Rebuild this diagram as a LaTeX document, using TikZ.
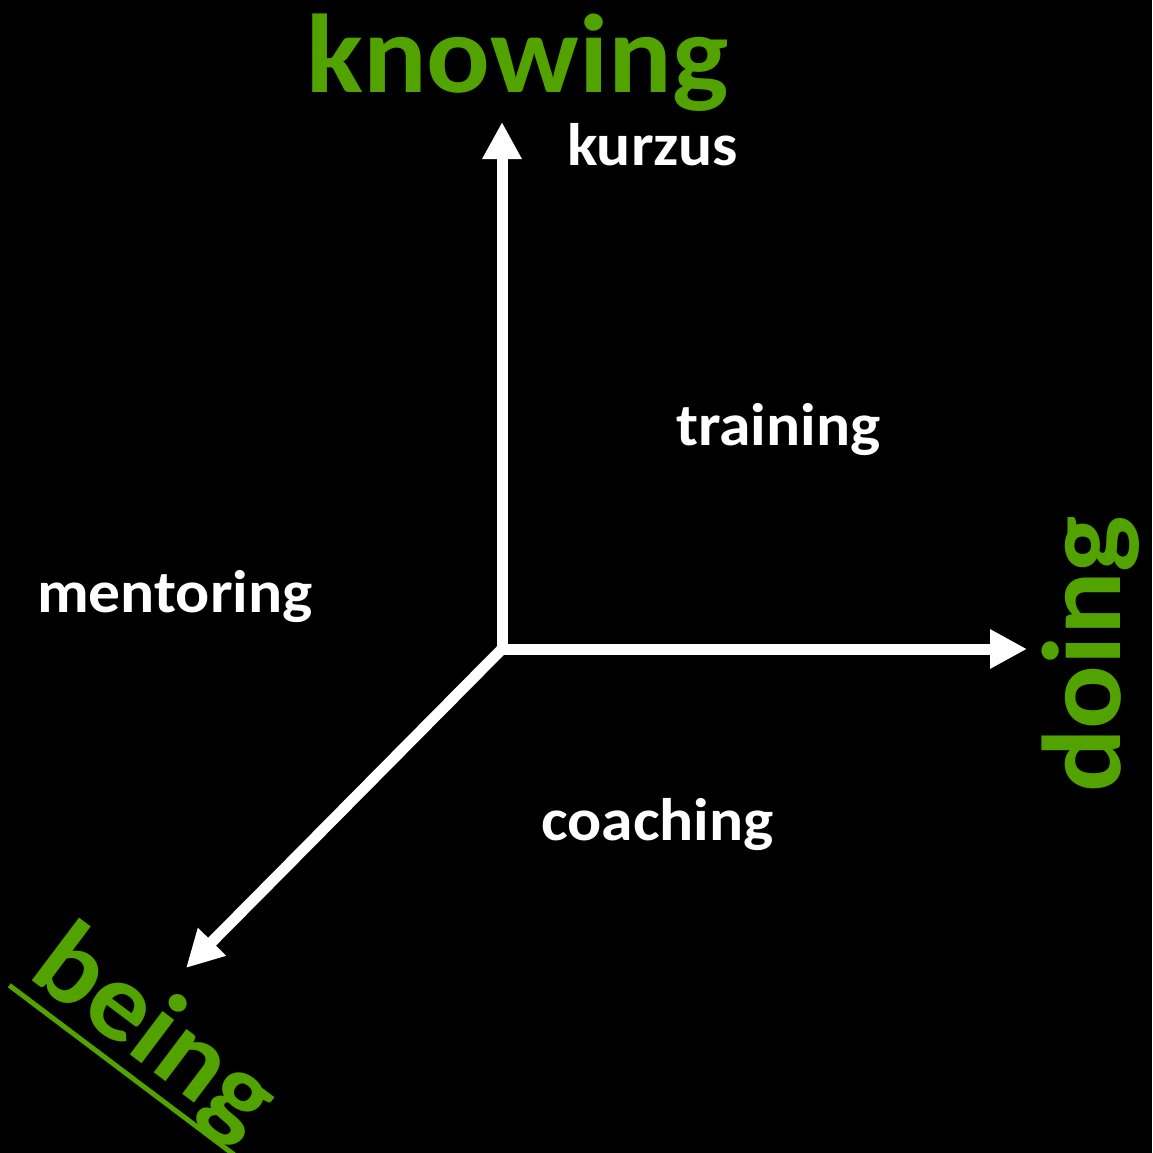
\documentclass[tikz,border=0pt]{standalone}
\usepackage{fontspec}
\setmainfont{Carlito}[FakeStretch=1.06]
\usetikzlibrary{arrows.meta}
\definecolor{axgreen}{RGB}{82,162,0}
\tikzset{
  axis/.style={draw=white, line width=11pt, -{Triangle[width=37pt,length=37pt]}},
  big/.style={text=axgreen, inner sep=0pt, font=\bfseries\fontsize{112}{112}\selectfont},
  lbl/.style={text=white, inner sep=0pt, anchor=base west, font=\bfseries\fontsize{60}{60}\selectfont}
}
\begin{document}
\begin{tikzpicture}[x=1pt,y=-1pt]
\fill[black] (0,0) rectangle (1152,1153);
\useasboundingbox (0,0) rectangle (1152,1153);
\coordinate (O) at (502,649);
\coordinate (up) at (502,122);
\coordinate (right) at (1027,649);
\coordinate (dl) at (186,968);
\draw[axis] (O) -- (up);
\draw[axis] (O) -- (right);
\draw[axis] (O) -- (dl);
\node[big, anchor=base west] (knowing) at (306,93) {knowing};
\node[big, anchor=base west, rotate=90] (doing) at (1120,793) {doing};
\node[big, anchor=base west, rotate=-37] (being) at (26,976) {\smash{\rlap{\hspace{-8pt}\rule[-20pt]{282pt}{5pt}}}being};
\node[lbl] (kurzus) at (567,165) {kurzus};
\node[lbl] (training) at (676,445) {training};
\node[lbl] (mentoring) at (37,612) {mentoring};
\node[lbl] (coaching) at (541,840) {coaching};
\end{tikzpicture}
\end{document}
